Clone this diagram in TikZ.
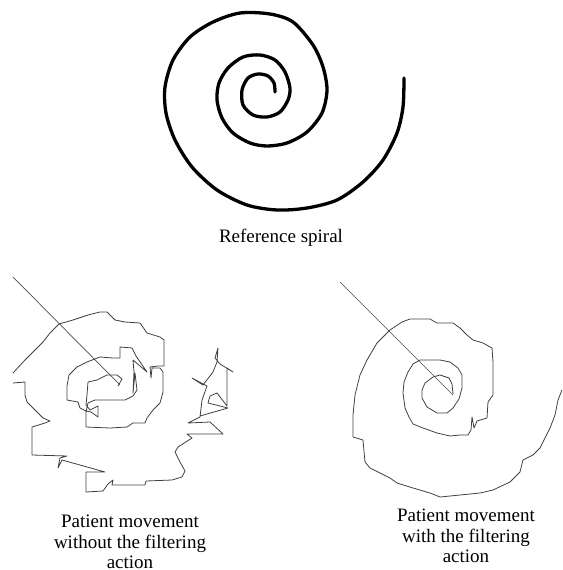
\documentclass[tikz,border=0pt]{standalone}
\usepackage{fontspec}
\setmainfont{Liberation Serif}

\begin{document}
\begin{tikzpicture}[
    x=1pt, y=-1pt,
    spiralline/.style={draw=black, line width=3.3pt, line cap=round, line join=round},
    trace/.style={draw=black!75, line width=0.8pt, line join=round},
    cursor/.style={draw=black!70, line width=0.7pt},
    caption/.style={font=\fontsize{19}{20.5}\selectfont, align=center, inner sep=0pt}
]
    \useasboundingbox (0,0) rectangle (562,570);

    % reference spiral
    \draw[spiralline] plot[smooth] coordinates {
        (275,92) (274,83) (268,76) (258,74) (248,78) (242,90) (243,105) (253,115)
        (267,117) (280,112) (288,100) (290,88) (285,72) (275,60) (260,55) (243,57)
        (228,68) (219,83) (217,100) (222,118) (233,133) (250,143) (267,146) (287,143)
        (307,132) (322,113) (327,90) (323,67) (313,45) (293,22) (270,14) (240,13)
        (213,22) (190,37) (173,60) (165,87) (166,113) (175,140) (192,167) (217,190)
        (247,205) (277,210) (307,208) (337,200) (363,182) (383,160) (397,133) (403,107)
        (404,78)};
    \node[caption, anchor=base] (refcap) at (281,242) {Reference spiral};

    % without filtering
    \coordinate (rawstart) at (13,277);
    \coordinate (rawend) at (120,385);
    \draw[cursor] (rawstart) -- (rawend);
    \draw[trace] (118,386) -- (122,379) -- (117,375) -- (107,375) -- (97,380) -- (88,382)
        -- (87,395) -- (86,405) -- (90,410) -- (98,406) -- (98,417) -- (91,412) -- (86,411)
        -- (80,408) -- (78,402) -- (67,400) -- (67,386) -- (69,375) -- (77,367) -- (87,362)
        -- (100,357) -- (113,358) -- (120,358) -- (120,347) -- (132,348) -- (136,356)
        -- (147,372) -- (140,366) -- (133,360) -- (134,372) -- (133,393) -- (135,373)
        -- (137,390) -- (133,396) -- (125,400) -- (95,400) -- (88,403) -- (86,412)
        -- (86,427) -- (110,428) -- (127,427) -- (133,423) -- (145,423) -- (147,418)
        -- (153,410) -- (160,403) -- (163,392) -- (163,372) -- (160,368) -- (152,368)
        -- (151,378) -- (150,367) -- (158,366) -- (164,366) -- (164,340) -- (160,337)
        -- (147,333) -- (140,323) -- (125,322) -- (115,320) -- (107,312) -- (100,312)
        -- (88,315) -- (73,320) -- (59,324) -- (50,333) -- (43,342) -- (33,352)
        -- (25,360) -- (13,373);
    \draw[trace] (13,383) -- (25,382) -- (25,395) -- (27,402) -- (35,410) -- (43,418)
        -- (50,421) -- (45,423) -- (32,427) -- (32,455) -- (67,456) -- (60,458)
        -- (58,468) -- (62,460) -- (105,472) -- (86,472) -- (86,492) -- (103,491)
        -- (108,484) -- (113,480) -- (112,485) -- (145,485) -- (146,481) -- (172,480)
        -- (182,477) -- (185,471) -- (180,462) -- (175,452) -- (178,447) -- (192,438)
        -- (187,434) -- (223,434) -- (210,422) -- (188,423) -- (200,417) -- (202,400)
        -- (207,386) -- (192,378) -- (203,385) -- (213,372) -- (217,362) -- (218,348)
        -- (215,358) -- (220,364) -- (233,372) -- (227,368) -- (227,406) -- (217,393)
        -- (210,396) -- (208,403) -- (228,408) -- (200,416);
    \node[caption, anchor=north] (rawcap) at (130,515) {Patient movement\\without the filtering\\action};

    % with filtering
    \coordinate (filtstart) at (340,282);
    \coordinate (filtend) at (453,395);
    \draw[cursor] (filtstart) -- (filtend);
    \draw[trace] (453,394) -- (452,384) -- (449,378) -- (440,375) -- (433,377) -- (425,383)
        -- (422,390) -- (422,398) -- (427,407) -- (437,413) -- (447,413) -- (453,408)
        -- (459,399) -- (462,388) -- (462,375) -- (458,368) -- (450,362) -- (440,360)
        -- (420,360) -- (413,364) -- (408,372) -- (404,382) -- (403,393) -- (405,408)
        -- (409,417) -- (413,424) -- (423,428) -- (437,433) -- (450,436) -- (460,435)
        -- (468,435) -- (471,430) -- (472,417) -- (474,428) -- (477,421) -- (487,418)
        -- (488,402) -- (493,395) -- (493,375) -- (493,362) -- (492,348) -- (483,343)
        -- (473,340) -- (467,335) -- (460,328) -- (453,323) -- (437,323) -- (430,319)
        -- (410,319) -- (402,322) -- (390,330) -- (377,343) -- (367,360) -- (360,375)
        -- (355,395) -- (353,415) -- (353,437) -- (363,440) -- (365,462) -- (370,468)
        -- (380,473) -- (390,478) -- (397,483) -- (413,488) -- (430,493) -- (440,497)
        -- (460,495) -- (480,493) -- (493,490) -- (510,482) -- (520,472) -- (523,460)
        -- (533,455) -- (540,448) -- (550,428) -- (555,415) -- (558,400) -- (562,390);
    \node[caption, anchor=north] (filtcap) at (466,509) {Patient movement\\with the filtering\\action};
\end{tikzpicture}
\end{document}
